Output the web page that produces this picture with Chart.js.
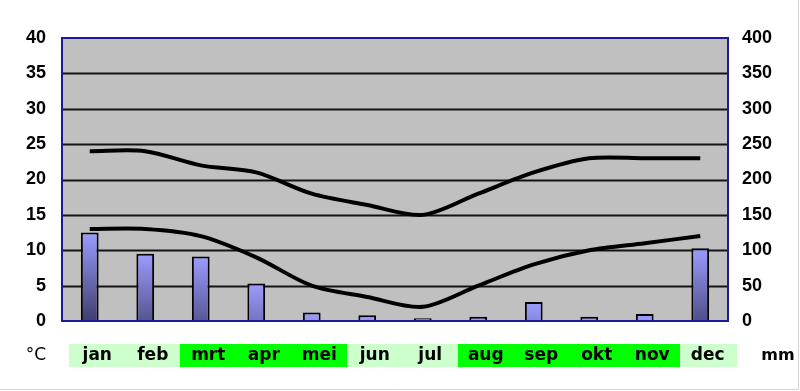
<!DOCTYPE html>
<html>
<head>
<meta charset="utf-8">
<script src="https://cdn.jsdelivr.net/npm/chart.js@4.4.1/dist/chart.umd.min.js"></script>
<style>
  body { margin: 0; background: #fff; }
  #wrap { width: 800px; height: 391px; }
</style>
</head>
<body>
<div id="wrap"><canvas id="climateChart" width="800" height="391"></canvas></div>
<script>
    // Climate data
    const months = ['jan', 'feb', 'mrt', 'apr', 'mei', 'jun', 'jul', 'aug', 'sep', 'okt', 'nov', 'dec'];
    const tempMax = [24, 24, 22, 21, 18, 16.4, 15, 18, 21, 23, 23, 23];
    const tempMin = [13, 13, 12, 9, 5, 3.4, 2, 5, 8, 10, 11, 12];
    const rainfall = [125, 95, 91, 53, 12, 8, 4, 6, 27, 6, 10, 103];
    const tempTicks = [0, 5, 10, 15, 20, 25, 30, 35, 40];
    const rainTicks = [0, 50, 100, 150, 200, 250, 300, 350, 400];
    // season band under the month labels (wet/dry)
    const seasonBand = ['light', 'light', 'bright', 'bright', 'bright', 'light', 'light', 'bright', 'bright', 'bright', 'bright', 'light'];

    const bandColors = { light: '#ccffcc', bright: '#00ff00' };

    // plot background, border and the month band
    const climatePlugin = {
        id: 'climateDecor',
        beforeDatasetsDraw(chart) {
            const { ctx, chartArea } = chart;
            ctx.save();
            ctx.fillStyle = '#c0c0c0';
            ctx.fillRect(chartArea.left, chartArea.top, chartArea.width, chartArea.height);
            // grid lines on top of the fill
            const y = chart.scales.y;
            ctx.strokeStyle = '#141414';
            ctx.lineWidth = 2;
            y.ticks.forEach(t => {
                if (t.value === 0 || t.value === 40) return;
                const py = Math.round(y.getPixelForValue(t.value)) + 0.5;
                ctx.beginPath();
                ctx.moveTo(chartArea.left, py);
                ctx.lineTo(chartArea.right, py);
                ctx.stroke();
            });
            ctx.restore();
        },
        afterDraw(chart) {
            const { ctx, chartArea } = chart;
            const x = chart.scales.x;
            ctx.save();
            ctx.strokeStyle = '#1a1a9a';
            ctx.lineWidth = 2;
            ctx.strokeRect(chartArea.left, chartArea.top, chartArea.width, chartArea.height);

            // month band
            const step = x.getPixelForValue(1) - x.getPixelForValue(0);
            const bandTop = chartArea.bottom + 23;
            const bandH = 23;
            months.forEach((m, i) => {
                const cx = x.getPixelForValue(i) + 7.5;
                ctx.fillStyle = bandColors[seasonBand[i]];
                ctx.fillRect(Math.floor(cx - step / 2), bandTop, Math.ceil(step) + 1, bandH);
            });
            ctx.fillStyle = '#000';
            ctx.font = 'bold 17px "DejaVu Sans"';
            ctx.textAlign = 'center';
            ctx.textBaseline = 'middle';
            months.forEach((m, i) => {
                const cx = x.getPixelForValue(i) + 7.5;
                ctx.fillText(m, cx, bandTop + bandH / 2);
            });
            ctx.font = '17px "DejaVu Sans"';
            ctx.fillText('°C', 36, bandTop + bandH / 2);
            ctx.font = 'bold 16px "DejaVu Sans"';
            ctx.fillText('mm', 778, bandTop + bandH / 2);

            // light frame at the page edge
            ctx.strokeStyle = '#d4d4d4';
            ctx.lineWidth = 1;
            ctx.beginPath();
            ctx.moveTo(0, 389.5);
            ctx.lineTo(798.5, 389.5);
            ctx.lineTo(798.5, 0);
            ctx.stroke();
            ctx.restore();
        }
    };

    // light at the top of each bar, darkening downwards
    function barGradient(context) {
        const chart = context.chart;
        const area = chart.chartArea;
        if (!area || !chart.scales.y2) return '#8888ee';
        const top = chart.scales.y2.getPixelForValue(context.raw);
        const g = chart.ctx.createLinearGradient(0, top, 0, top + 90);
        g.addColorStop(0, '#9c9cff');
        g.addColorStop(1, '#3c3c6c');
        return g;
    }

    const ctx = document.getElementById('climateChart').getContext('2d');
    new Chart(ctx, {
        type: 'bar',
        data: {
            labels: months,
            datasets: [
                {
                    type: 'line',
                    data: tempMax,
                    yAxisID: 'y',
                    borderColor: '#000',
                    borderWidth: 4,
                    pointRadius: 0,
                    tension: 0.3,
                    order: 1
                },
                {
                    type: 'line',
                    data: tempMin,
                    yAxisID: 'y',
                    borderColor: '#000',
                    borderWidth: 4,
                    pointRadius: 0,
                    tension: 0.3,
                    order: 1
                },
                {
                    type: 'bar',
                    data: rainfall,
                    yAxisID: 'y2',
                    backgroundColor: barGradient,
                    borderColor: '#000',
                    borderWidth: 2,
                    categoryPercentage: 1,
                    barPercentage: 0.32,
                    order: 2
                }
            ]
        },
        options: {
            responsive: false,
            animation: false,
            layout: { padding: { top: 38 } },
            plugins: {
                legend: { display: false },
                tooltip: { enabled: false }
            },
            scales: {
                x: {
                    offset: true,
                    grid: { display: false },
                    border: { display: false },
                    ticks: { display: false },
                    afterFit(scale) { scale.height = 70; }
                },
                y: {
                    position: 'left',
                    min: 0,
                    max: 40,
                    afterBuildTicks(scale) { scale.ticks = tempTicks.map(v => ({ value: v })); },
                    grid: { display: false, drawTicks: false },
                    border: { display: false },
                    ticks: {
                        color: '#000',
                        padding: 16,
                        font: { family: '"Liberation Sans", Arial', size: 18, weight: 'bold' }
                    },
                    afterFit(scale) { scale.width = 62; }
                },
                y2: {
                    position: 'right',
                    min: 0,
                    max: 400,
                    afterBuildTicks(scale) { scale.ticks = rainTicks.map(v => ({ value: v })); },
                    grid: { display: false, drawTicks: false },
                    border: { display: false },
                    ticks: {
                        color: '#000',
                        padding: 14,
                        font: { family: '"Liberation Sans", Arial', size: 18, weight: 'bold' }
                    },
                    afterFit(scale) { scale.width = 72; }
                }
            }
        },
        plugins: [climatePlugin]
    });
</script>
</body>
</html>
